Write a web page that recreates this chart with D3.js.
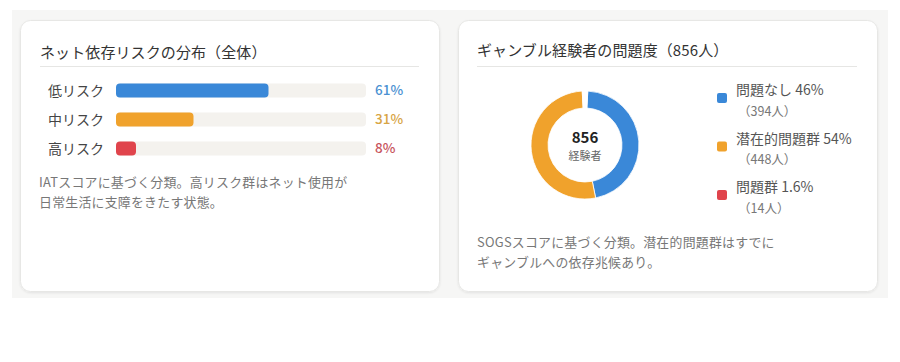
<!DOCTYPE html>
<html><head><meta charset="utf-8">
<script src="https://cdn.jsdelivr.net/npm/d3@7/dist/d3.min.js"></script>
<style>
html,body{margin:0;padding:0;background:#fff;}
svg{display:block;font-family:"Noto Sans CJK JP","Noto Sans",sans-serif;}
</style></head>
<body><svg id="c" width="900" height="362"></svg>
<script>
// ---- data ----
const riskTitle = "ネット依存リスクの分布（全体）";
const riskCategories = ["低リスク", "中リスク", "高リスク"];
const riskValues = [61, 31, 8];
const riskColors = ["#3a88d8", "#f0a22c", "#e0444c"];
const riskLabelColors = ["#4b91d2", "#d8a545", "#c8535c"];
const riskNote = ["IATスコアに基づく分類。高リスク群はネット使用が", "日常生活に支障をきたす状態。"];

const gambleTitle = "ギャンブル経験者の問題度（856人）";
const gambleCategories = ["問題なし", "潜在的問題群", "問題群"];
const gamblePercents = ["46%", "54%", "1.6%"];
const gambleCounts = [394, 448, 14];
const gambleColors = ["#3a88d8", "#f0a22c", "#e0444c"];
const gambleTotal = 856;
const gambleCenterLabel = "経験者";
const gambleNote = ["SOGSスコアに基づく分類。潜在的問題群はすでに", "ギャンブルへの依存兆候あり。"];

// ---- drawing ----
const svg = d3.select("#c");
svg.append("rect").attr("x", 12).attr("y", 10).attr("width", 876).attr("height", 288).attr("fill", "#f6f6f5");

const defs = svg.append("defs");
const f = defs.append("filter").attr("id", "sh").attr("x", "-5%").attr("y", "-5%").attr("width", "110%").attr("height", "115%");
f.append("feDropShadow").attr("dx", 0).attr("dy", 1).attr("stdDeviation", 1.2).attr("flood-color", "#000").attr("flood-opacity", 0.08);

function card(x, y, w, h) {
  svg.append("rect").attr("x", x).attr("y", y).attr("width", w).attr("height", h)
    .attr("rx", 10).attr("fill", "#fff").attr("stroke", "#e7e7e5").attr("stroke-width", 1)
    .attr("filter", "url(#sh)");
}
card(20.5, 20.5, 419, 271);
card(458.5, 20.5, 419, 271);

// Left card
const L = svg.append("g");
L.append("text").attr("x", 40).attr("y", 58).attr("font-size", 15).attr("fill", "#333")
  .attr("letter-spacing", 0.1).text(riskTitle);
L.append("line").attr("x1", 40).attr("x2", 419).attr("y1", 66.5).attr("y2", 66.5).attr("stroke", "#e6e6e4");

const x = d3.scaleLinear().domain([0, 100]).range([116, 366]);
const y = d3.scaleBand().domain(riskCategories).range([76, 163]).paddingInner(0.5).paddingOuter(0.25);
const bh = 14;
const rows = L.selectAll("g.row").data(riskCategories).join("g").attr("class", "row");
rows.append("rect").attr("x", x(0)).attr("width", x(100) - x(0))
  .attr("y", d => y(d) + y.bandwidth() / 2 - bh / 2).attr("height", bh).attr("rx", 4).attr("fill", "#f4f2ee");
rows.append("rect").attr("x", x(0)).attr("width", (d, i) => x(riskValues[i]) - x(0))
  .attr("y", d => y(d) + y.bandwidth() / 2 - bh / 2).attr("height", bh).attr("rx", 4)
  .attr("fill", (d, i) => riskColors[i]);
rows.append("text").attr("x", 48).attr("y", d => y(d) + y.bandwidth() / 2)
  .attr("dy", "0.36em").attr("font-size", 14).attr("fill", "#444").text(d => d);
rows.append("text").attr("x", 375).attr("y", d => y(d) + y.bandwidth() / 2)
  .attr("dy", "0.36em").attr("font-size", 13.5).attr("font-weight", 500).attr("fill", (d, i) => riskLabelColors[i])
  .text((d, i) => riskValues[i] + "%");

L.selectAll("text.note").data(riskNote).join("text").attr("class", "note")
  .attr("x", 39).attr("y", (d, i) => 187 + i * 20).attr("font-size", 12.9).attr("letter-spacing", 0.25)
  .attr("fill", "#777").text(d => d);

// Right card
const R = svg.append("g");
R.append("text").attr("x", 477).attr("y", 56).attr("font-size", 15).attr("fill", "#333")
  .attr("letter-spacing", 0.1).text(gambleTitle);
R.append("line").attr("x1", 477).attr("x2", 857).attr("y1", 66.5).attr("y2", 66.5).attr("stroke", "#e6e6e4");

const cx = 585, cy = 145;
const off = (gambleCounts[2] / gambleTotal) * Math.PI; // center the gap at top
const pie = d3.pie().sort(null).startAngle(off).endAngle(off + 2 * Math.PI);
const arc = d3.arc().innerRadius(37).outerRadius(54);
const dg = R.append("g").attr("transform", `translate(${cx},${cy})`);
dg.selectAll("path").data(pie(gambleCounts)).join("path")
  .attr("d", arc)
  .attr("fill", (d, i) => i === 2 ? "#ffffff" : gambleColors[i])
  .attr("stroke", "#fff").attr("stroke-width", 0.8);
dg.append("text").attr("text-anchor", "middle").attr("y", -2).attr("font-size", 15)
  .attr("font-weight", "bold").attr("fill", "#222").text(gambleTotal);
dg.append("text").attr("text-anchor", "middle").attr("y", 15).attr("font-size", 11)
  .attr("fill", "#666").text(gambleCenterLabel);

const lg = R.selectAll("g.lg").data(gambleCategories).join("g").attr("class", "lg")
  .attr("transform", (d, i) => `translate(717,${90 + i * 48.5})`);
lg.append("rect").attr("x", 0).attr("y", 3).attr("width", 10).attr("height", 10).attr("rx", 2)
  .attr("fill", (d, i) => gambleColors[i]);
lg.append("text").attr("x", 19).attr("y", 0).attr("dy", "0.36em").attr("font-size", 14)
  .attr("fill", "#555").text((d, i) => d + " " + gamblePercents[i]);
lg.append("text").attr("x", 21).attr("y", 21).attr("dy", "0.36em").attr("font-size", 12.5)
  .attr("fill", "#777").text((d, i) => "（" + gambleCounts[i] + "人）");

R.selectAll("text.note").data(gambleNote).join("text").attr("class", "note")
  .attr("x", 477).attr("y", (d, i) => 247 + i * 20).attr("font-size", 12.9).attr("letter-spacing", 0.25)
  .attr("fill", "#777").text(d => d);
</script></body></html>
